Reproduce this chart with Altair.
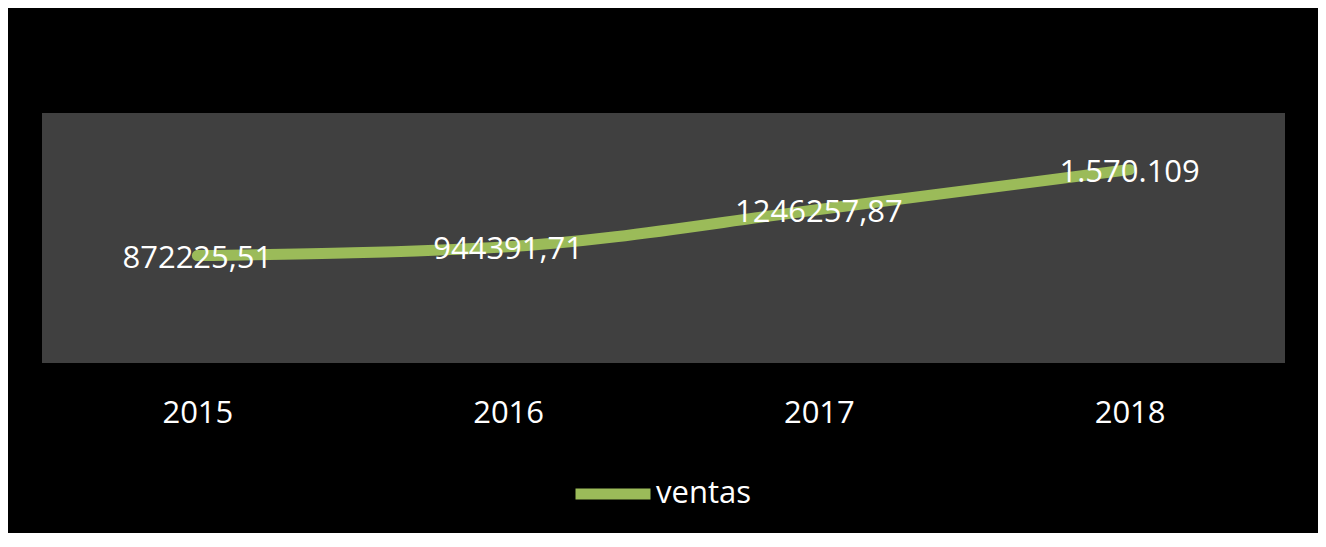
import altair as alt
import pandas as pd

years = ["2015", "2016", "2017", "2018"]
ventas = [872225.51, 944391.71, 1246257.87, 1570109]
labels = ["872225,51", "944391,71", "1246257,87", "1.570.109"]
series = ["ventas"] * 4

df = pd.DataFrame({"year": years, "value": ventas, "label": labels, "serie": series})

FONT = "Open Sans"
GREEN = "#9BBB59"

x = alt.X("year:O", scale=alt.Scale(type="point", padding=0.5),
          axis=alt.Axis(title=None, labelAngle=0, domain=False, ticks=False,
                        labelColor="white", labelFontSize=31, labelFont=FONT,
                        labelPadding=35, grid=False))
y = alt.Y("value:Q", scale=alt.Scale(domain=[0, 2030000], nice=False, zero=True),
          axis=None)

line = alt.Chart(df).mark_line(strokeWidth=11, strokeCap="round", strokeJoin="round",
                               interpolate="monotone").encode(
    x=x, y=y,
    color=alt.Color("serie:N", scale=alt.Scale(range=[GREEN]),
                    legend=alt.Legend(title=None, orient="none", legendX=528, legendY=338,
                                      symbolType="stroke", symbolSize=5625,
                                      symbolStrokeWidth=11, labelFont=FONT,
                                      labelFontSize=31, labelColor="white",
                                      labelOffset=0, padding=0, labelLimit=400))
)

text = alt.Chart(df).mark_text(fontSize=31, font=FONT, color="white",
                               align="center", baseline="middle", dy=3).encode(
    x=x, y=y, text="label:N"
)

chart = (line + text).properties(
    width=1243, height=250,
    background="black",
    padding={"left": 34, "top": 105, "right": 33, "bottom": 170},
    autosize=alt.AutoSizeParams(type="none"),
).configure_view(fill="#404040", stroke=None)

chart.save("out.html", embed_options={"renderer": "svg", "actions": False})
